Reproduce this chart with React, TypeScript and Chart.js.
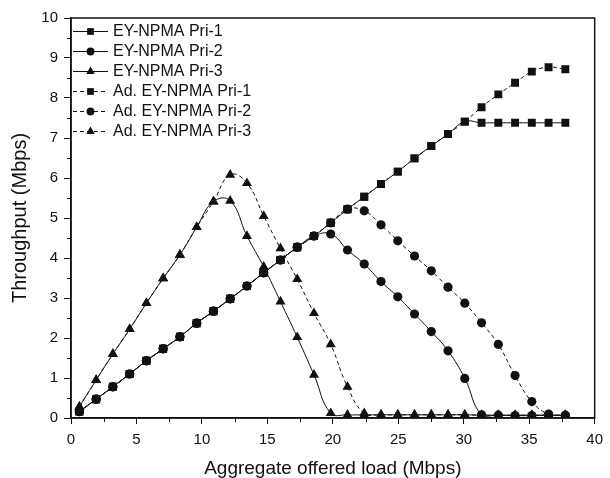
import { useEffect, useRef } from 'react';
import { Chart, registerables } from 'chart.js';

Chart.register(...registerables);

const FONT = '"Liberation Sans", Arial, Helvetica, sans-serif';

const loads = [0.64, 1.92, 3.2, 4.48, 5.76, 7.04, 8.32, 9.6, 10.88, 12.16, 13.44, 14.72, 16.0, 17.28, 18.56, 19.84, 21.12, 22.4, 23.68, 24.96, 26.24, 27.52, 28.8, 30.08, 31.36, 32.64, 33.92, 35.2, 36.48, 37.76];

const eyPri1 = [0.16, 0.47, 0.78, 1.10, 1.43, 1.73, 2.03, 2.37, 2.67, 2.98, 3.30, 3.63, 3.95, 4.27, 4.55, 4.88, 5.22, 5.53, 5.85, 6.16, 6.49, 6.80, 7.10, 7.41, 7.38, 7.38, 7.38, 7.38, 7.38, 7.38];
const eyPri2 = [0.16, 0.47, 0.78, 1.10, 1.43, 1.73, 2.03, 2.37, 2.67, 2.98, 3.30, 3.63, 3.95, 4.27, 4.55, 4.60, 4.20, 3.85, 3.41, 3.03, 2.60, 2.16, 1.68, 0.99, 0.08, 0.07, 0.06, 0.06, 0.07, 0.06];
const eyPri3 = [0.28, 0.95, 1.60, 2.22, 2.87, 3.49, 4.08, 4.77, 5.41, 5.43, 4.55, 3.78, 2.91, 2.02, 1.08, 0.12, 0.08, 0.08, 0.08, 0.08, 0.08, 0.08, 0.08, 0.08, 0.07, 0.07, 0.07, 0.07, 0.07, 0.07];
const adPri1 = [0.16, 0.47, 0.78, 1.10, 1.43, 1.73, 2.03, 2.37, 2.67, 2.98, 3.30, 3.63, 3.95, 4.27, 4.55, 4.88, 5.22, 5.53, 5.85, 6.16, 6.49, 6.80, 7.10, 7.41, 7.77, 8.09, 8.38, 8.66, 8.77, 8.72];
const adPri2 = [0.16, 0.47, 0.78, 1.10, 1.43, 1.73, 2.03, 2.37, 2.67, 2.98, 3.30, 3.63, 3.95, 4.27, 4.55, 4.88, 5.22, 5.18, 4.83, 4.43, 4.05, 3.68, 3.27, 2.87, 2.38, 1.84, 1.06, 0.41, 0.10, 0.07];
const adPri3 = [0.28, 0.95, 1.60, 2.22, 2.87, 3.49, 4.08, 4.77, 5.41, 6.08, 5.87, 5.05, 4.24, 3.47, 2.62, 1.84, 0.78, 0.12, 0.08, 0.08, 0.08, 0.08, 0.08, 0.08, 0.07, 0.07, 0.07, 0.07, 0.07, 0.07];

const seriesLabels = ['EY-NPMA Pri-1', 'EY-NPMA Pri-2', 'EY-NPMA Pri-3', 'Ad. EY-NPMA Pri-1', 'Ad. EY-NPMA Pri-2', 'Ad. EY-NPMA Pri-3'];
const seriesValues = [eyPri1, eyPri2, eyPri3, adPri1, adPri2, adPri3];
const seriesMarkers = ['rect', 'circle', 'triangle', 'rect', 'circle', 'triangle'];
const seriesDashed = [false, false, false, true, true, true];

const xTitle = 'Aggregate offered load (Mbps)';
const yTitle = 'Throughput (Mbps)';

const INK = '#111';
const DASH = [4, 3];
const markerRadius: Record<string, number> = { rect: 5.6, circle: 4.6, triangle: 5.8 };

function drawMarker(ctx: CanvasRenderingContext2D, style: string, x: number, y: number, r: number) {
  ctx.beginPath();
  if (style === 'rect') {
    const s = r * Math.SQRT1_2;
    ctx.rect(x - s, y - s, 2 * s, 2 * s);
  } else if (style === 'circle') {
    ctx.arc(x, y, r, 0, Math.PI * 2);
  } else {
    ctx.moveTo(x, y - r);
    ctx.lineTo(x + 0.866 * r, y + 0.5 * r);
    ctx.lineTo(x - 0.866 * r, y + 0.5 * r);
    ctx.closePath();
  }
  ctx.fill();
}

const framePlugin = {
  id: 'frameAndLegend',
  afterDraw(chart: any) {
    const { ctx, chartArea } = chart;
    const { left, right, top, bottom } = chartArea;
    const xs = chart.scales.x;
    const ys = chart.scales.y;
    ctx.save();
    ctx.strokeStyle = INK;
    ctx.lineWidth = 1.5;
    ctx.strokeRect(left, top, right - left, bottom - top);
    // minor ticks
    ctx.lineWidth = 1;
    ctx.beginPath();
    for (let v = 2.5; v < 40; v += 5) {
      const px = Math.round(xs.getPixelForValue(v)) + 0.5;
      ctx.moveTo(px, bottom);
      ctx.lineTo(px, bottom + 4);
    }
    for (let v = 0.5; v < 10; v += 1) {
      const py = Math.round(ys.getPixelForValue(v)) + 0.5;
      ctx.moveTo(left, py);
      ctx.lineTo(left - 4, py);
    }
    ctx.stroke();
    // legend
    ctx.fillStyle = INK;
    ctx.font = `16px ${FONT}`;
    ctx.textBaseline = 'middle';
    ctx.textAlign = 'left';
    for (let i = 0; i < seriesLabels.length; i++) {
      const y = top + 13.5 + i * 20;
      ctx.setLineDash(seriesDashed[i] ? DASH : []);
      ctx.beginPath();
      ctx.moveTo(left + 2, y);
      ctx.lineTo(left + 37, y);
      ctx.stroke();
      ctx.setLineDash([]);
      drawMarker(ctx, seriesMarkers[i], left + 19.5, y, markerRadius[seriesMarkers[i]] * 0.85);
      ctx.fillText(seriesLabels[i], left + 42, y + 0.5);
    }
    ctx.restore();
  },
};

export default function App() {
  const ref = useRef<HTMLCanvasElement>(null);
  useEffect(() => {
    document.body.style.margin = '0';
    const canvas = ref.current!;
    const datasets = seriesValues.map((vals, i) => ({
      label: seriesLabels[i],
      data: loads.map((x, k) => ({ x, y: vals[k] })),
      borderColor: INK,
      backgroundColor: INK,
      borderWidth: 1,
      borderDash: seriesDashed[i] ? DASH : [],
      pointStyle: seriesMarkers[i],
      pointRadius: markerRadius[seriesMarkers[i]],
      pointBackgroundColor: INK,
      pointBorderWidth: 0,
      tension: 0.45,
      fill: false,
    }));
    const chart = new Chart(canvas, {
      type: 'line',
      data: { datasets } as any,
      plugins: [framePlugin],
      options: {
        responsive: false,
        animation: false,
        devicePixelRatio: 1,
        layout: { padding: { top: 18, right: 11, left: 0, bottom: 0 } },
        plugins: { legend: { display: false }, tooltip: { enabled: false } },
        scales: {
          x: {
            type: 'linear',
            min: 0,
            max: 40,
            ticks: { stepSize: 5, color: INK, font: { family: FONT, size: 15 }, padding: 7, maxRotation: 0 },
            grid: { drawOnChartArea: false, tickLength: 6, color: INK, tickColor: INK, tickWidth: 1 },
            border: { color: INK, width: 1.5 },
            title: { display: true, text: xTitle, color: INK, font: { family: FONT, size: 19, lineHeight: 1 }, padding: 0 },
            afterFit: (s: any) => { s.height = 60; },
          },
          y: {
            type: 'linear',
            min: 0,
            max: 10,
            ticks: { stepSize: 1, color: INK, font: { family: FONT, size: 15 }, padding: 6 },
            grid: { drawOnChartArea: false, tickLength: 7, color: INK, tickColor: INK, tickWidth: 1 },
            border: { color: INK, width: 1.5 },
            title: { display: true, text: yTitle, color: INK, font: { family: FONT, size: 20, lineHeight: 1 }, padding: { top: 10, bottom: 0 } },
            afterFit: (s: any) => { s.width = 71; },
          },
        },
      } as any,
    });
    return () => chart.destroy();
  }, []);
  return (
    <div style={{ width: 610, height: 478 }}>
      <canvas ref={ref} width={610} height={478} style={{ display: 'block' }} />
    </div>
  );
}
